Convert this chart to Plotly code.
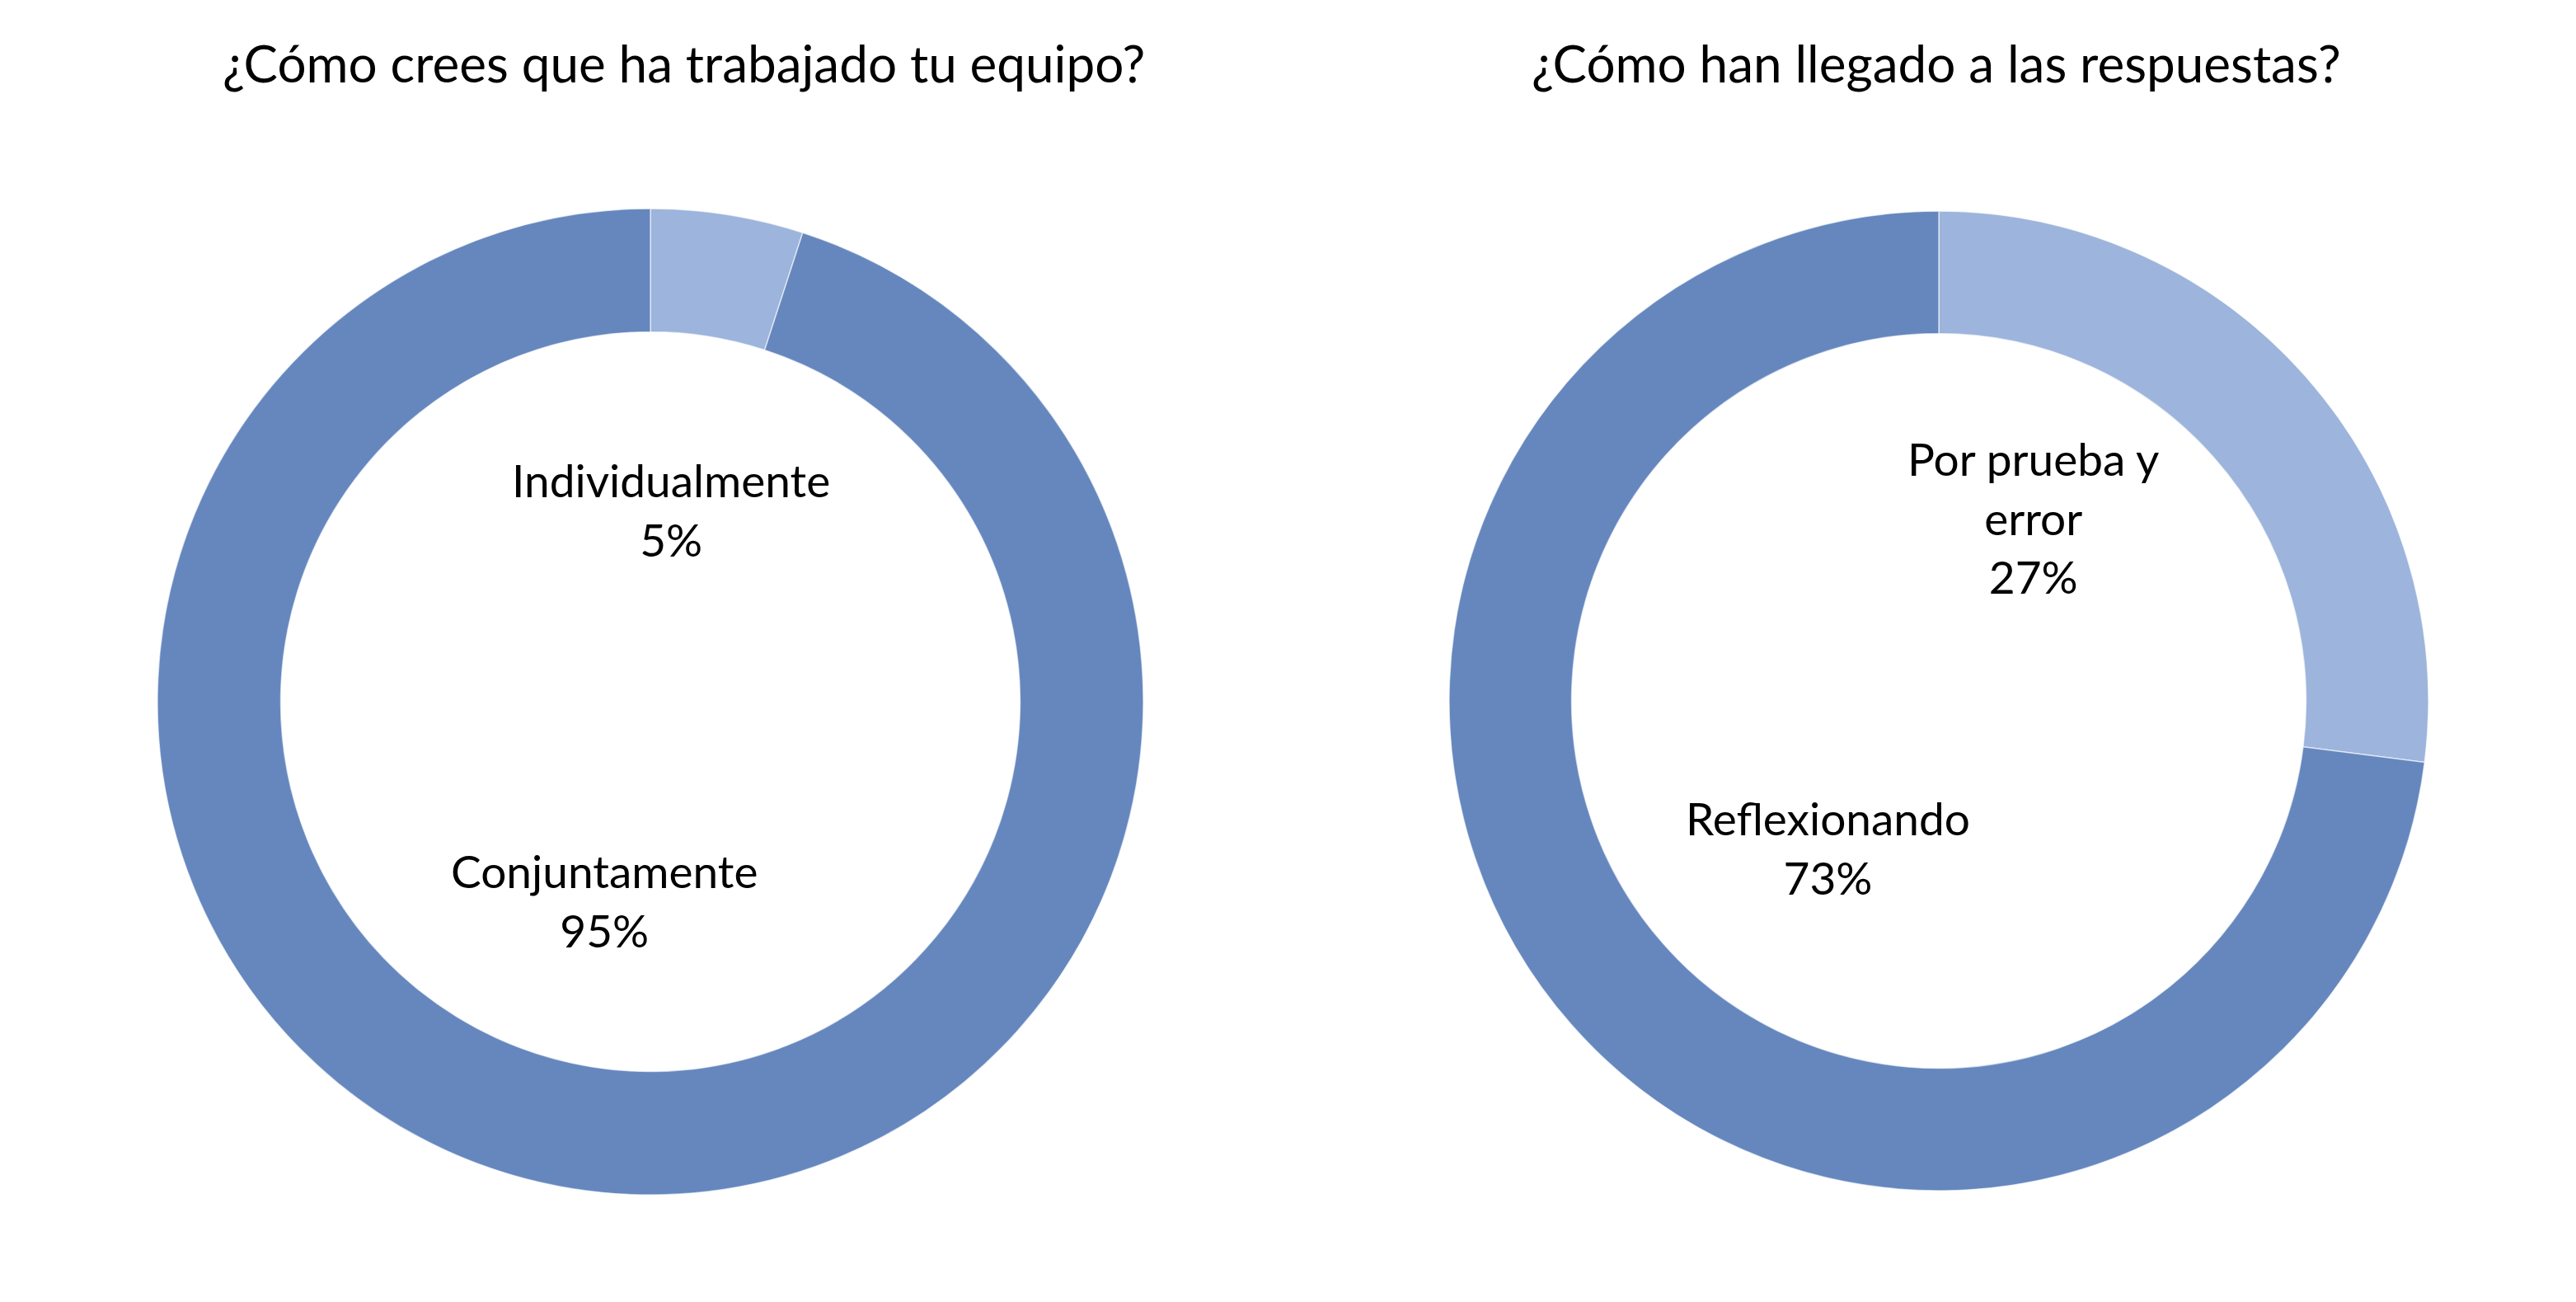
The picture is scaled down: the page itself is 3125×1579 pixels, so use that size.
import numpy as np
import plotly.graph_objects as go

# ----- DATOS -----
titulos = ["¿Cómo crees que ha trabajado tu equipo?", "¿Cómo han llegado a las respuestas?"]

equipo_labels = ["Individualmente", "Conjuntamente"]
equipo_values = [5, 95]

respuestas_labels = ["Por prueba y<br>error", "Reflexionando"]
respuestas_values = [27, 73]

# ----- ESTILO / LAYOUT -----
W, H = 3125, 1579
OFF = 8  # margen por defecto del <body> en la página
FONT = "Lato"
color_grande = "#6587BE"
color_chico = "#9DB4DC"

# centro y radio de cada dona en pixeles de la página
donas = [(789, 851, 598), (2352, 850, 594)]
titulos_pos = [(829, 76), (2349, 76)]
# pequeños ajustes manuales (px) de las etiquetas, como en el original
ajustes = [[(0, 8), (-31, 0)], [(-12, -18), (-8, -27)]]


def px_x(x):
    return (x - OFF) / W


def px_y(y):
    return 1 - (y - OFF) / H


def dominio(cx, cy, R):
    return dict(x=[px_x(cx - R), px_x(cx + R)], y=[px_y(cy + R), px_y(cy - R)])


def posiciones_etiquetas(values, cx, cy, R, aj):
    total = sum(values)
    acum = 0
    pos = []
    for v, (dx, dy) in zip(values, aj):
        mid = (acum + v / 2) / total * 360
        acum += v
        # las etiquetas quedan algo más cerca del eje vertical
        base = 0 if mid < 90 or mid > 270 else 180
        ang = np.radians(base + (mid - base) * 0.65)
        r = 0.405 * R
        x = cx + r * np.sin(ang) + dx
        y = cy - r * np.cos(ang) + dy
        pos.append((px_x(x), px_y(y)))
    return pos


fig = go.Figure()

datos = [(equipo_labels, equipo_values), (respuestas_labels, respuestas_values)]
anotaciones = []
for i, (labels, values) in enumerate(datos):
    cx, cy, R = donas[i]
    colores = [color_chico, color_grande] if values[0] < values[1] else [color_grande, color_chico]
    fig.add_trace(go.Pie(
        labels=labels,
        values=values,
        hole=0.75,
        sort=False,
        direction="clockwise",
        rotation=0,
        textinfo="none",
        hoverinfo="label+percent",
        showlegend=False,
        domain=dominio(cx, cy, R),
        marker=dict(colors=colores, line=dict(color="rgba(255,255,255,0.6)", width=1.5)),
    ))
    total = sum(values)
    for (x, y), lab, v in zip(posiciones_etiquetas(values, cx, cy, R, ajustes[i]), labels, values):
        anotaciones.append(dict(
            x=x, y=y, xref="paper", yref="paper",
            xanchor="center", yanchor="middle",
            text=f"{lab}<br>{round(v / total * 100)}%",
            showarrow=False, align="center",
            font=dict(family=FONT, size=55, color="black"),
        ))
    tx, ty = titulos_pos[i]
    anotaciones.append(dict(
        x=px_x(tx), y=px_y(ty), xref="paper", yref="paper",
        xanchor="center", yanchor="middle",
        text=titulos[i], showarrow=False,
        font=dict(family=FONT, size=62, color="black"),
    ))

fig.update_layout(
    width=W, height=H,
    margin=dict(l=0, r=0, t=0, b=0),
    paper_bgcolor="white",
    plot_bgcolor="white",
    annotations=anotaciones,
    font=dict(family=FONT),
)

fig.write_html("out.html")
